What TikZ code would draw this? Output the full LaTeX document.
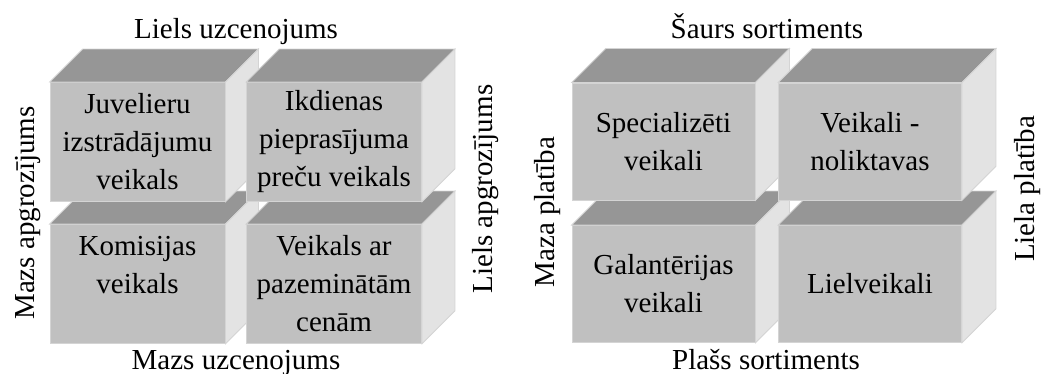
\documentclass[tikz,border=0pt]{standalone}
\usepackage{fontspec}
\setmainfont{Liberation Serif}

\definecolor{cPriek}{HTML}{C0C0C0}
\definecolor{cVirsa}{HTML}{969696}
\definecolor{cSans}{HTML}{E3E3E3}
\definecolor{cMala}{HTML}{D4D4D4}

% kaste: stils, vards, centrs, teksts
\newcommand{\dzilums}{33}
\newcommand{\kaste}[4]{%
    \node[fronts,#1] (#2) at (#3) {#4};
    \filldraw[virsa] (#2.north west) -- ++(\dzilums,-\dzilums)
        -- ([shift={(\dzilums,-\dzilums)}]#2.north east) -- (#2.north east) -- cycle;
    \filldraw[sani] (#2.north east) -- ([shift={(\dzilums,-\dzilums)}]#2.north east)
        -- ([shift={(\dzilums,-\dzilums)}]#2.south east) -- (#2.south east) -- cycle;
}

\begin{document}
\begin{tikzpicture}[x=1pt,y=-1pt]
    \tikzstyle{burti} = [font=\fontsize{29}{38}\selectfont]
    \tikzstyle{fronts} = [burti, rectangle, fill=cPriek, draw=cMala, line width=0.8pt,
        inner sep=0pt, align=center]
    \tikzstyle{virsa} = [fill=cVirsa, draw=cMala, line width=0.8pt]
    \tikzstyle{sani} = [fill=cSans, draw=cMala, line width=0.8pt]
    \tikzstyle{kreisa} = [minimum width=175pt, minimum height=119pt]
    \tikzstyle{laba} = [minimum width=183pt, minimum height=117pt]
    \tikzstyle{ann} = [burti, draw=none, fill=none, anchor=base, inner sep=0pt]

    \useasboundingbox (0,0) rectangle (1041,374);

    % uzcenojums / apgrozijums
    \kaste{kreisa}{kom}{137.5,284}{Komisijas\\veikals\\\mbox{}}
    \kaste{kreisa}{pazem}{334,284}{Veikals ar\\pazeminātām\\cenām}
    \kaste{kreisa}{juv}{137.5,142}{Juvelieru\\izstrādājumu\\veikals}
    \kaste{kreisa}{ikd}{334,142}{Ikdienas\\pieprasījuma\\preču veikals}

    \node[ann] (lielsUzc) at (236,39) {Liels uzcenojums};
    \node[ann] (mazsUzc) at (236,369) {Mazs uzcenojums};
    \node[ann, rotate=90] (mazsApgr) at (34,213) {Mazs apgrozījums};
    \node[ann, rotate=90] (lielsApgr) at (492,189) {Liels apgrozījums};

    % sortiments / platiba
    \renewcommand{\dzilums}{34}
    \kaste{laba}{galant}{663.5,284}{Galantērijas\\veikali}
    \kaste{laba}{lielv}{870,284}{Lielveikali}
    \kaste{laba}{spec}{663.5,141.5}{Specializēti\\veikali}
    \kaste{laba}{nolikt}{870,141.5}{Veikali -\\noliktavas}

    \node[ann] (saurs) at (767,39) {Šaurs sortiments};
    \node[ann] (plass) at (766,369) {Plašs sortiments};
    \node[ann, rotate=90] (mazaPl) at (554,212) {Maza platība};
    \node[ann, rotate=90] (lielaPl) at (1034,189) {Liela platība};
\end{tikzpicture}
\end{document}
